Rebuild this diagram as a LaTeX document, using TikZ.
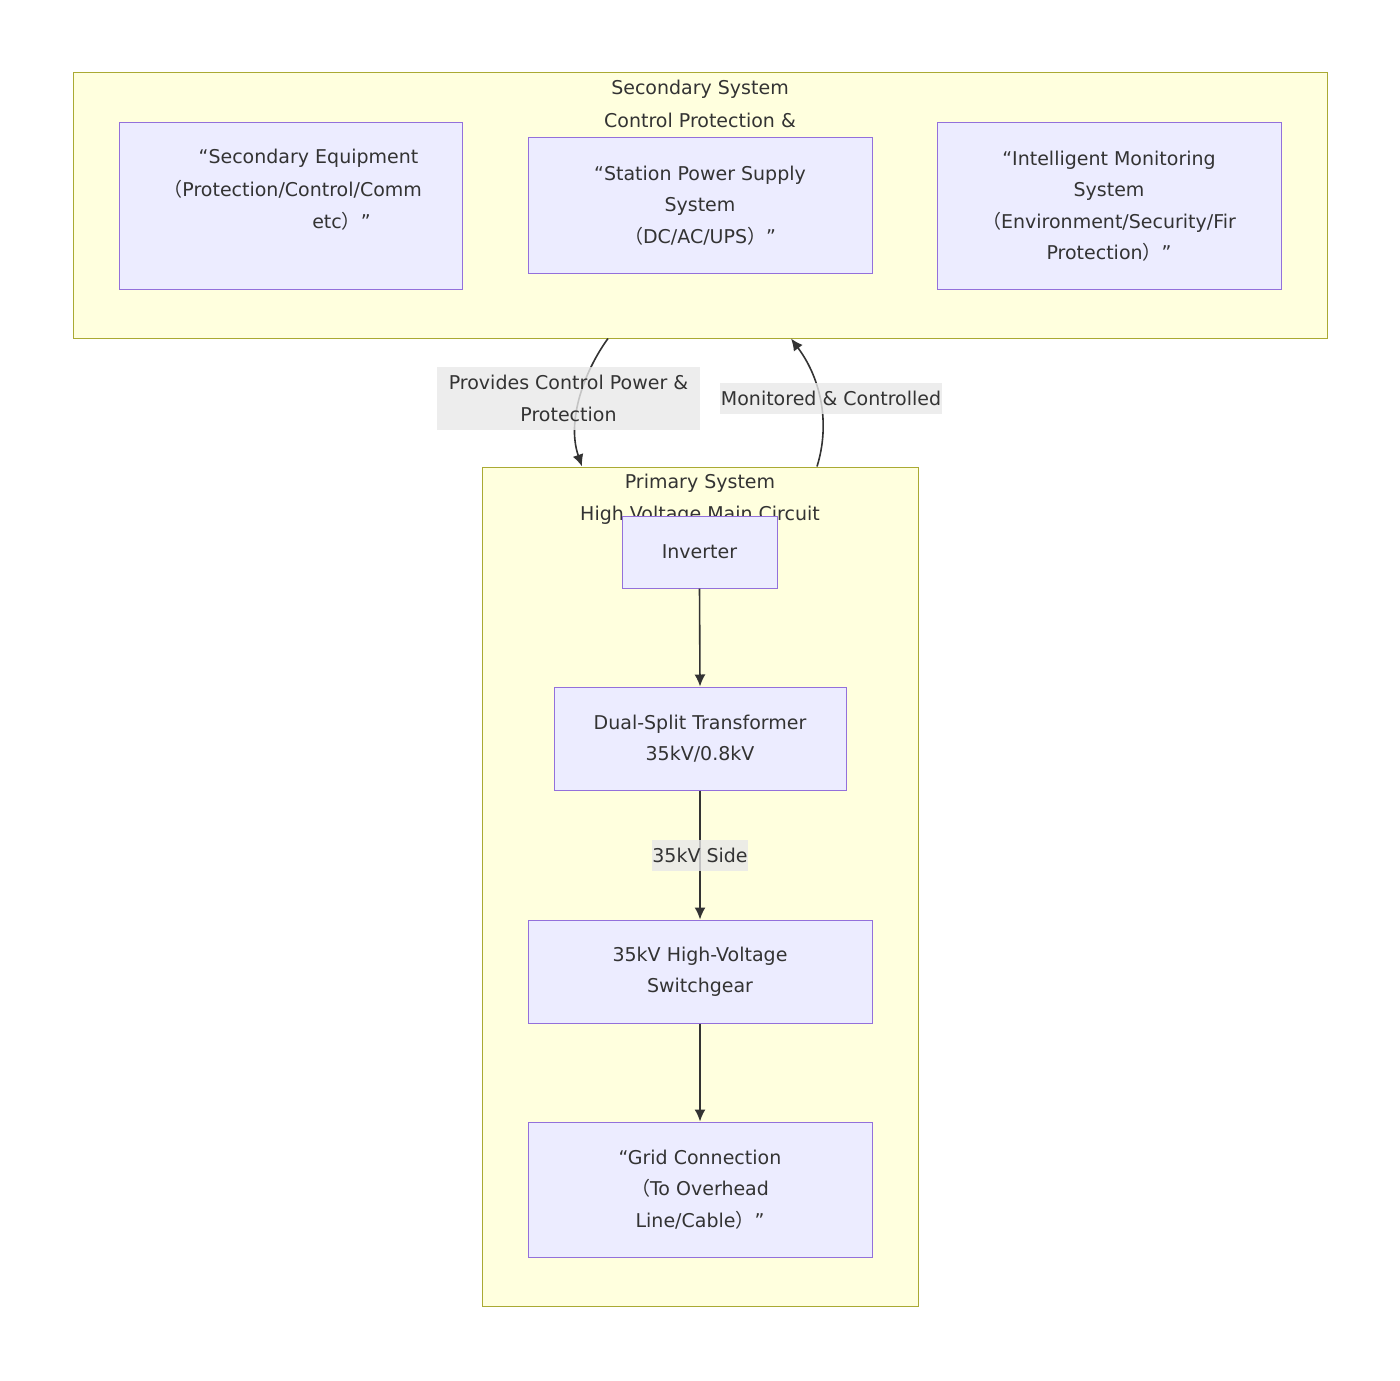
\documentclass[tikz,border=0pt]{standalone}
\usepackage{fontspec}
\setmainfont{DejaVu Sans}
\newfontfamily\cjk{Noto Sans CJK SC}
\usetikzlibrary{arrows.meta}

\definecolor{clfill}{HTML}{FFFFDE}
\definecolor{cldraw}{HTML}{AAAA33}
\definecolor{bxfill}{HTML}{ECECFF}
\definecolor{bxdraw}{HTML}{9370DB}
\definecolor{ink}{HTML}{333333}
\definecolor{lblbg}{HTML}{E8E8E8}
\newcommand{\fwl}{{\cjk （}}
\newcommand{\fwr}{{\cjk ）}}

\begin{document}
\begin{tikzpicture}[x=0.5pt,y=-0.5pt,
  every node/.style={font=\fontsize{9.5}{15.75}\selectfont,text=ink,inner sep=0pt},
  cluster/.style={draw=cldraw,fill=clfill,line width=0.5pt},
  box/.style={draw=bxdraw,fill=bxfill,line width=0.5pt,align=center},
  link/.style={draw=ink,line width=0.8pt,-{Latex[length=6pt,width=5.5pt]}},
  lbl/.style={fill=lblbg,fill opacity=0.8,text opacity=1,align=center}]

\useasboundingbox (0,0) rectangle (1400,1380);

% secondary system
\node[cluster,minimum width=627pt,minimum height=132.5pt] (sec) at (700,205.5) {};
\node (sectitle) at (700,89) {Secondary System};
\node (secsub) at (700,120) {Control Protection \&};

\node[box,minimum width=171.5pt,minimum height=83pt] (seceq) at (290.5,206) {};
\node (seceqa) at (308.5,158) {“Secondary Equipment};
\begin{scope}
\clip (119,123) rectangle (423,289);
\node[anchor=west] (seceqb) at (163,189) {\fwl Protection/Control/Comm};
\end{scope}
\node (seceqc) at (341.5,221) {etc\fwr”};

\node[box,minimum width=172pt,minimum height=67.5pt] (power) at (700,205.5)
  {“Station Power Supply\\System\\\fwl DC/AC/UPS\fwr”};
\node[box,minimum width=172pt,minimum height=83pt] (monitor) at (1109,206)
  {“Intelligent Monitoring\\System\\\fwl Environment/Security/Fir\\Protection\fwr”};

% primary system
\node[cluster,minimum width=218pt,minimum height=419.5pt] (pri) at (700,886.5) {};
\node (prititle) at (700,483) {Primary System};
\node (prisub) at (700,515) {High Voltage Main Circuit};

\node[box,minimum width=77.5pt,minimum height=36pt] (inv) at (699.5,552) {Inverter};
\node[box,minimum width=146pt,minimum height=51.5pt] (trafo) at (700,738.5)
  {Dual-Split Transformer\\35kV/0.8kV};
\node[box,minimum width=172pt,minimum height=51.5pt] (swgear) at (700,971.5)
  {35kV High-Voltage\\Switchgear};
\node[box,minimum width=172pt,minimum height=67.5pt] (grid) at (700,1189.5)
  {“Grid Connection\\\fwl To Overhead\\Line/Cable\fwr”};

\draw[link] (inv.south) -- (trafo.north);
\draw[link] (trafo.south) -- (swgear.north);
\draw[link] (swgear.south) -- (grid.north);
\node[lbl,minimum width=45pt,minimum height=15.5pt] (sidelbl) at (700,855.5) {35kV Side};

% links between the two systems
\draw[link] ([xshift=-46pt]sec.south) .. controls (585,370) and (566,420) .. ([xshift=-59pt]pri.north);
\draw[link] ([xshift=58.5pt]pri.north) .. controls (830,425) and (822,380) .. ([xshift=45.5pt]sec.south);
\node[lbl,minimum width=131.5pt,minimum height=31.5pt] (provlbl) at (568.5,398.5)
  {Provides Control Power \&\\Protection};
\node[lbl,minimum width=111pt,minimum height=15.5pt] (monlbl) at (831,398.5)
  {Monitored \& Controlled};

\end{tikzpicture}
\end{document}
